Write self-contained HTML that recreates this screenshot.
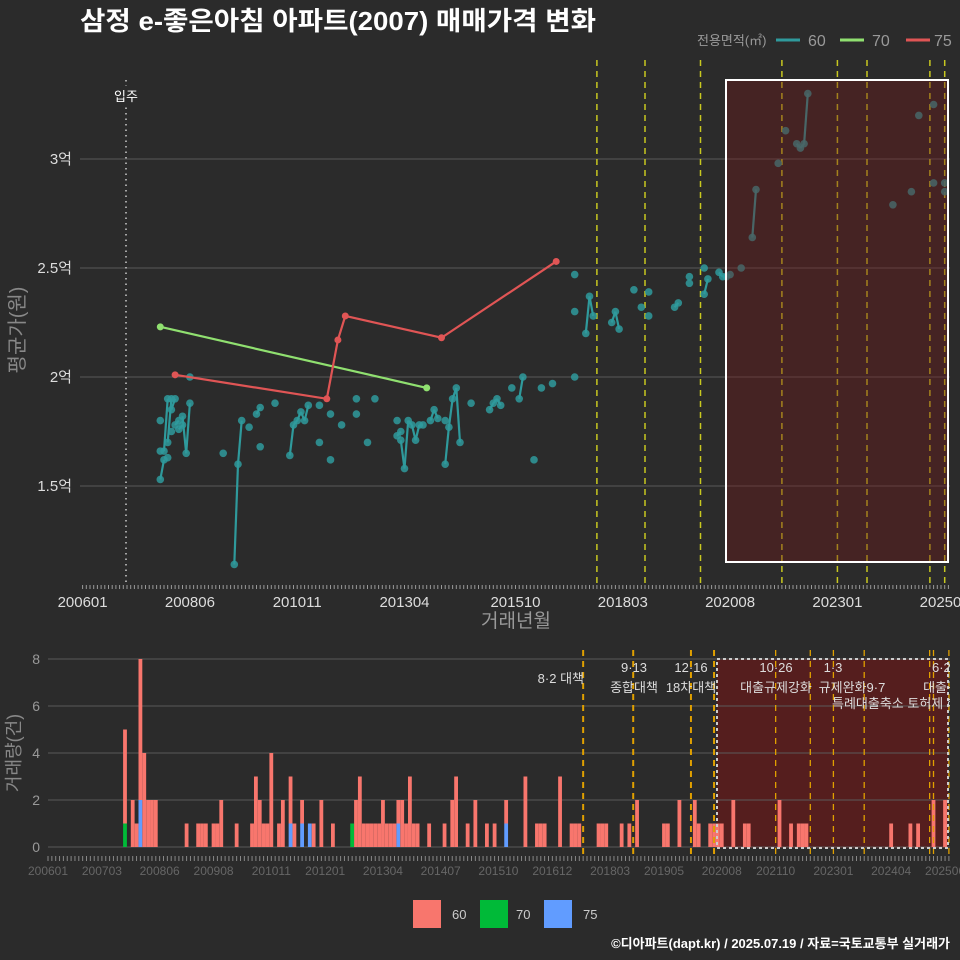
<!DOCTYPE html>
<html><head><meta charset="utf-8"><style>
html,body{margin:0;padding:0;background:#2b2b2b;}
svg{display:block;font-family:"Liberation Sans","Noto Sans CJK KR",sans-serif;}
</style></head><body>
<svg id="c" width="960" height="960" viewBox="0 0 960 960" xmlns="http://www.w3.org/2000/svg">
<defs><clipPath id="botclip"><rect x="0" y="640" width="950" height="240"/></clipPath></defs>
<rect width="960" height="960" fill="#2b2b2b"/>
<text x="80" y="30" font-size="26" font-weight="bold" fill="#fff" textLength="516" lengthAdjust="spacingAndGlyphs">삼정 e-좋은아침 아파트(2007) 매매가격 변화</text>
<g>
<text x="697" y="45" font-size="13" fill="#999">전용면적(㎡)</text>
<line x1="776" y1="40" x2="800" y2="40" stroke="#2f9a9c" stroke-width="3"/>
<text x="808" y="46" font-size="16" fill="#999">60</text>
<line x1="840" y1="40" x2="864" y2="40" stroke="#90e070" stroke-width="3"/>
<text x="872" y="46" font-size="16" fill="#999">70</text>
<line x1="906" y1="40" x2="930" y2="40" stroke="#e05555" stroke-width="3"/>
<text x="934" y="46" font-size="16" fill="#999">75</text>
</g>
<text transform="translate(24,330) rotate(-90)" text-anchor="middle" font-size="20" fill="#888">평균가(원)</text>
<text x="516" y="627" text-anchor="middle" font-size="19" fill="#999">거래년월</text>
<text transform="translate(20,753) rotate(-90)" text-anchor="middle" font-size="18" fill="#888">거래량(건)</text>
<g id="topg"></g>
<g id="botg"></g>
<g>
<rect x="413" y="900" width="28" height="28" fill="#F8766D"/>
<text x="452" y="919" font-size="13" fill="#ccc">60</text>
<rect x="480" y="900" width="28" height="28" fill="#00BA38"/>
<text x="516" y="919" font-size="13" fill="#ccc">70</text>
<rect x="544" y="900" width="28" height="28" fill="#619CFF"/>
<text x="583" y="919" font-size="13" fill="#ccc">75</text>
</g>
<text x="950" y="948" text-anchor="end" font-size="13" font-weight="bold" fill="#fff">©디아파트(dapt.kr) / 2025.07.19 / 자료=국토교통부 실거래가</text>
</svg>
<script>
// ---- data ----
const s60Months = [21,21,21,22,22,23,23,23,24,24,24,25,25,26,26,27,27,28,29,29,38,41,42,43,45,47,48,48,52,56,57,58,59,60,61,64,64,67,67,70,74,74,77,79,85,85,86,86,87,88,89,90,91,92,94,95,96,98,98,99,100,101,102,105,110,111,112,113,116,118,119,122,124,127,133,133,133,136,137,138,143,144,145,149,151,153,153,160,161,164,164,168,168,169,172,173,174,175,178,181,182,188,190,193,194,195,196,219,224,226,230,230,233,233];
const s60Values = [1.80,1.66,1.53,1.62,1.66,1.90,1.63,1.70,1.90,1.75,1.85,1.90,1.78,1.80,1.76,1.78,1.82,1.65,1.88,2.00,1.65,1.14,1.60,1.80,1.77,1.83,1.86,1.68,1.88,1.64,1.78,1.80,1.84,1.80,1.87,1.87,1.70,1.83,1.62,1.78,1.90,1.83,1.70,1.90,1.80,1.73,1.75,1.71,1.58,1.80,1.78,1.71,1.78,1.78,1.80,1.85,1.81,1.80,1.60,1.77,1.90,1.95,1.70,1.88,1.85,1.88,1.90,1.87,1.95,1.90,2.00,1.62,1.95,1.97,2.47,2.30,2.00,2.20,2.37,2.28,2.25,2.30,2.22,2.40,2.32,2.39,2.28,2.32,2.34,2.46,2.43,2.50,2.38,2.45,2.48,2.46,2.46,2.47,2.50,2.64,2.86,2.98,3.13,3.07,3.05,3.07,3.30,2.79,2.85,3.20,3.25,2.89,2.89,2.85];
const s70Months = [21,93];
const s70Values = [2.23,1.95];
const s75Months = [25,66,69,71,97,128];
const s75Values = [2.01,1.90,2.17,2.28,2.18,2.53];
const yTickValues = [1.5,2,2.5,3];
const yTickLabels = ["1.5억","2억","2.5억","3억"];
const xTickMonths = [0,29,58,87,117,146,175,204,233];
const xTickLabels = ["200601","200806","201011","201304","201510","201803","202008","202301","202506"];
const topEventMonths = [139,152,167,189,204,212,229,233];
// volume
const vol60Months = [20,22,23,24,25,26,27,28,36,39,40,41,43,44,45,49,53,54,55,56,57,58,60,61,63,64,66,68,69,71,74,79,80,81,82,83,84,85,86,87,88,89,90,91,92,93,94,95,96,99,103,105,106,109,111,114,116,119,124,127,128,129,133,136,137,138,143,144,145,149,151,153,160,161,164,168,169,172,173,174,175,178,181,182,190,193,195,196,197,219,224,226,230,233];
const vol60Values = [4,2,1,6,4,2,2,2,1,1,1,1,1,1,2,1,1,3,2,1,1,4,1,2,2,1,1,0,1,2,1,0,2,3,1,1,1,1,1,2,1,1,1,1,2,1,3,1,1,1,1,2,3,1,2,1,1,1,3,1,1,1,3,1,1,1,1,1,1,1,1,2,1,1,2,2,1,1,1,1,1,2,1,1,2,1,1,1,1,1,1,1,2,2];
const vol70Months = [20,79];
const vol70Values = [1,1];
const vol75Months = [24,63,66,68,91,119];
const vol75Values = [2,1,1,1,1,1];
const botEventMonths = [139,152,167,173,189,198,204,212,229,230,234];
const botTickMonths = [0,14,29,43,58,72,87,102,117,131,146,160,175,189,204,219,233];
const botTickLabels = ["200601","200703","200806","200908","201011","201201","201304","201407","201510","201612","201803","201905","202008","202110","202301","202404","202506"];
const volTicks = [0,2,4,6,8];

const NS="http://www.w3.org/2000/svg";
function mk(p,t,a){const e=document.createElementNS(NS,t);for(const k in a)e.setAttribute(k,a[k]);p.appendChild(e);return e;}
const xT=m=>82.6+3.70*m, yT=v=>377-(v-2)*218;
const xB=m=>48+3.85*m, yB=v=>847-v*23.5;
const topG=document.getElementById('topg'), botG=document.getElementById('botg');

yTickValues.forEach((v,i)=>{
  const g=mk(topG,'line',{x1:80,x2:950,y1:yT(v),y2:yT(v),stroke:'#5a5a5a','stroke-width':1});
  
  
  const t=mk(topG,'text',{x:72,y:yT(v)+5,'text-anchor':'end','font-size':15,fill:'#ddd'});t.textContent=yTickLabels[i];
  
  
});
for(let m=0;m<=234;m++){
  const l=mk(topG,'line',{x1:xT(m),x2:xT(m),y1:585,y2:589,stroke:'#999','stroke-width':1});
  
  
}
xTickMonths.forEach((m,i)=>{
  const t=mk(topG,'text',{x:xT(m),y:607,'text-anchor':'middle','font-size':15,fill:'#ddd'});t.textContent=xTickLabels[i];
  
  
});
const mi=mk(topG,'line',{x1:126,x2:126,y1:80,y2:582,stroke:'#ccc','stroke-width':1.5,'stroke-dasharray':'1.5,4'});


const mit=mk(topG,'rect',{x:112,y:86,width:28,height:18,fill:'#2b2b2b'});


const mtx=mk(topG,'text',{x:126,y:101,'text-anchor':'middle','font-size':13,fill:'#fff'});mtx.textContent='입주';


topEventMonths.forEach(m=>{
  const l=mk(topG,'line',{x1:xT(m),x2:xT(m),y1:60,y2:585,stroke:'#c8c820','stroke-width':1.5,'stroke-dasharray':'6,5'});
  
  
});
function series(ms,vs,col,name){
  for(let i=1;i<ms.length;i++){
    if(ms[i]-ms[i-1]===1){
      const l=mk(topG,'line',{x1:xT(ms[i-1]),y1:yT(vs[i-1]),x2:xT(ms[i]),y2:yT(vs[i]),stroke:col,'stroke-width':2.2});
      
      
    }
  }
  ms.forEach((m,i)=>{
    const c=mk(topG,'circle',{cx:xT(m),cy:yT(vs[i]),r:3.8,fill:col,'fill-opacity':0.85});
    
    
  });
}
series(s60Months,s60Values,'#2f9a9c','series-60');
function fullLine(ms,vs,col,name){
  const d=ms.map((m,i)=>(i?'L':'M')+xT(m)+','+yT(vs[i])).join('');
  const p=mk(topG,'path',{d:d,stroke:col,'stroke-width':2.2,fill:'none'});
  
  
  ms.forEach((m,i)=>{
    const c=mk(topG,'circle',{cx:xT(m),cy:yT(vs[i]),r:3.5,fill:col});
    
    
  });
}
fullLine(s70Months,s70Values,'#90e070','series-70');
fullLine(s75Months,s75Values,'#e05555','series-75');
const hr=mk(topG,'rect',{x:726,y:80,width:222,height:482,fill:'rgba(110,25,25,0.4)',stroke:'#fff','stroke-width':2});



// bottom
const br=mk(botG,'rect',{x:717,y:659,width:231,height:189,fill:'rgba(120,20,20,0.55)'});


volTicks.forEach(v=>{
  const g=mk(botG,'line',{x1:48,x2:950,y1:yB(v),y2:yB(v),stroke:'#5a5a5a','stroke-width':1});
  
  
  const t=mk(botG,'text',{x:40,y:yB(v)+5,'text-anchor':'end','font-size':14,fill:'#999'});t.textContent=String(v);
  
  
});
const stackBase={};
function bars(ms,vs,col,nm){
  ms.forEach((m,i)=>{
    const v=vs[i]; if(!(v>0)) return;
    const b=stackBase[m]||0;
    const r=mk(botG,'rect',{x:xB(m)-1.9,y:yB(b+v),width:3.8,height:v*23.5,fill:col});
    
    
    stackBase[m]=b+v;
  });
}
bars(vol70Months,vol70Values,'#00BA38','bar-70');
bars(vol75Months,vol75Values,'#619CFF','bar-75');
bars(vol60Months,vol60Values,'#F8766D','bar-60');
botEventMonths.forEach(m=>{
  const l=mk(botG,'line',{x1:xB(m),x2:xB(m),y1:650,y2:858,stroke:'#e0a000','stroke-width':m<175?2:1.3,'stroke-dasharray':'6,5'});
  
  
});
const bb=mk(botG,'rect',{x:717,y:659,width:231,height:189,fill:'none',stroke:'#ccc','stroke-width':2,'stroke-dasharray':'3,3'});


for(let m=0;m<=234;m++){
  const l=mk(botG,'line',{x1:xB(m),x2:xB(m),y1:856,y2:861,stroke:'#888','stroke-width':1});
  
  
}
botTickMonths.forEach((m,i)=>{
  const t=mk(botG,'text',{x:xB(m),y:875,'text-anchor':'middle','font-size':12,fill:'#666'});t.textContent=botTickLabels[i];
  
  
});
const annG=mk(botG,'g',{'clip-path':'url(#botclip)'});


const ann=[[584,683,'end','8·2 대책'],[634,672,'middle','9·13'],[634,692,'middle','종합대책'],[691,672,'middle','12·16'],[691,692,'middle','18차대책'],[776,672,'middle','10·26'],[776,692,'middle','대출규제강화'],[833,672,'middle','1·3'],[852,692,'middle','규제완화9·7'],[832,708,'start','특례대출축소 토허제 해제'],[945,672,'middle','6·27'],[947,692,'middle','대출규제']];
ann.forEach(a=>{
  const t=mk(annG,'text',{x:a[0],y:a[1],'text-anchor':a[2],'font-size':13,fill:'#ddd'});t.textContent=a[3];
  
  
});
</script>
</body></html>
